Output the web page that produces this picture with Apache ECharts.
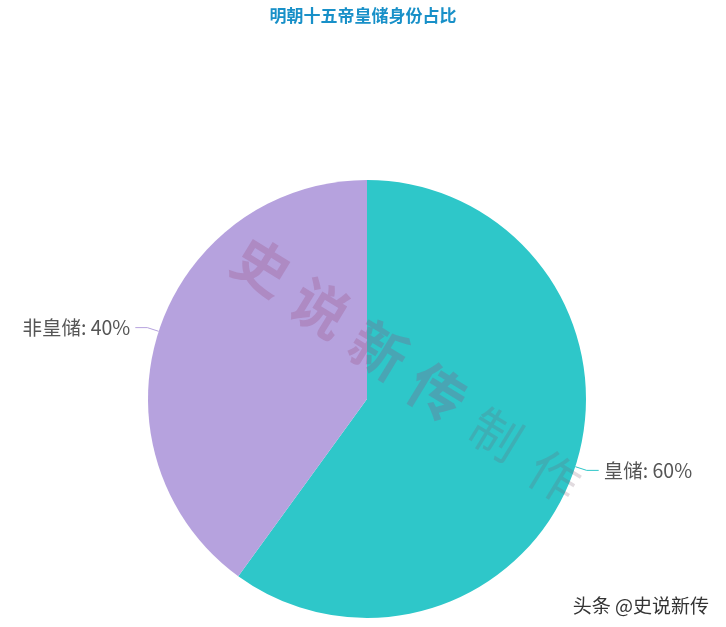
<!DOCTYPE html>
<html>
<head>
<meta charset="utf-8">
<script src="https://cdn.jsdelivr.net/npm/echarts@6/dist/echarts.min.js"></script>
<style>
html,body{margin:0;padding:0;background:#fff;}
#main{width:726px;height:627px;}
</style>
</head>
<body>
<div id="main"></div>
<script>
const titleText = '明朝十五帝皇储身份占比';
const categories = ['皇储', '非皇储'];
const values = [9, 6];
const colors = ['#2ec7c9', '#b6a2de'];
const watermarkChars = ['史', '说', '新', '传', '制', '作'];
const footer = '头条 @史说新传';

const chart = echarts.init(document.getElementById('main'));
const font = '"Noto Sans CJK SC", "Noto Sans", sans-serif';

// decorative watermark along a diagonal
const wmStart = [262, 266], wmStep = [58.5, 42];
const wmGraphics = watermarkChars.map((ch, i) => ({
  type: 'text',
  x: wmStart[0] + wmStep[0] * i,
  y: wmStart[1] + wmStep[1] * i,
  rotation: -0.55,
  z: 100,
  style: {
    text: ch,
    fontSize: i < 4 ? 56 : 50,
    fontFamily: font,
    fontWeight: i < 4 ? 'bold' : 'normal',
    fill: i < 4 ? 'rgba(150,70,120,0.26)' : 'rgba(120,90,110,0.22)',
    align: 'center',
    verticalAlign: 'middle'
  }
}));

chart.setOption({
  backgroundColor: '#fff',
  title: {
    text: titleText,
    left: 'center',
    top: 2,
    textStyle: { color: '#1890c8', fontSize: 17, fontWeight: 'bold', fontFamily: font }
  },
  color: colors,
  series: [{
    type: 'pie',
    center: [367, 399],
    radius: 219,
    startAngle: 90,
    data: categories.map((c, i) => ({ name: c, value: values[i] })),
    label: {
      formatter: p => p.name + ': ' + Math.round(p.percent) + '%',
      color: '#555',
      fontSize: 19.5,
      fontFamily: font
    },
    labelLine: { length: 12, length2: 12, lineStyle: { width: 1 } },
    emphasis: { disabled: true }
  }],
  graphic: wmGraphics.concat([
    {
      type: 'text',
      right: 17,
      bottom: 12,
      style: { text: footer, fontSize: 19, fontFamily: font, fill: '#333' }
    }
  ])
});
</script>
</body>
</html>
